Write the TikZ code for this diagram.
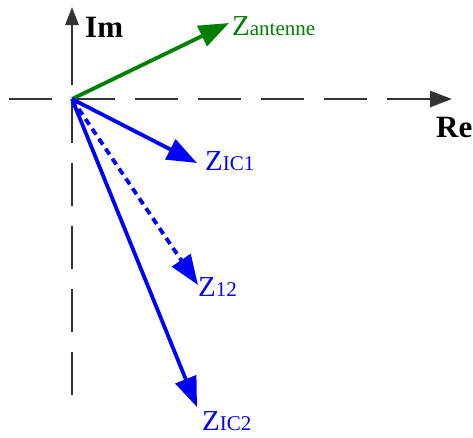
\documentclass[tikz,border=0pt]{standalone}
\usepackage{fontspec}
\setmainfont{Liberation Serif}
\usepackage{xcolor}
\usepackage{tikz}
\usetikzlibrary{arrows.meta}

\definecolor{antgreen}{RGB}{0,128,0}
\definecolor{icblue}{RGB}{0,0,255}
\newcommand{\zsub}[1]{{\fontsize{21}{22}\selectfont #1}}

\begin{document}
\begin{tikzpicture}[x=1pt, y=-1pt,
    axis/.style={line width=2.8pt, black!80, dash pattern=on 43pt off 20pt},
    axisarrow/.style={-{Triangle[length=22pt, width=16pt]}},
    imarrow/.style={-{Triangle[length=18pt, width=13pt]}},
    vec/.style={line width=3.8pt, -{Triangle[length=30pt, width=22pt]}},
    lbl/.style={anchor=base west, inner sep=0pt, font=\fontsize{29}{31}\selectfont},
    axlbl/.style={anchor=base west, inner sep=0pt, font=\fontsize{31}{33}\selectfont\bfseries}
]
\useasboundingbox (0,0) rectangle (473,437);

% axes
\coordinate (O)       at (72,99);
\coordinate (reStart) at (9,99);
\coordinate (reEnd)   at (452,99);
\coordinate (imBot)   at (72,395);
\coordinate (imMid)   at (72,85);
\coordinate (imTop)   at (72,7);
\draw [axis, axisarrow] (reStart) -- (reEnd);
\draw [axis] (imBot) -- (O);
\draw [axis, solid, imarrow] (imMid) -- (imTop);
\node (im) [axlbl] at (85,37)  {Im};
\node (re) [axlbl] at (436,137) {Re};

% vectors
\coordinate (tAnt) at (229,23);
\coordinate (tIC1) at (197,163);
\coordinate (tOne) at (198,285);
\coordinate (tIC2) at (197,407);
\draw [vec, antgreen] (O) -- (tAnt);
\draw [vec, icblue] (O) -- (tIC1);
\draw [vec, icblue, dash pattern=on 7pt off 5pt] (O) -- (tOne);
\draw [vec, icblue] (O) -- (tIC2);

\node (zant) [lbl, antgreen] at (232,35)  {Z\zsub{antenne}};
\node (zic1) [lbl, icblue]   at (205,170) {Z\zsub{IC1}};
\node (z12)  [lbl, icblue]   at (198,296) {Z\zsub{12}};
\node (zic2) [lbl, icblue]   at (202,430) {Z\zsub{IC2}};
\end{tikzpicture}
\end{document}
